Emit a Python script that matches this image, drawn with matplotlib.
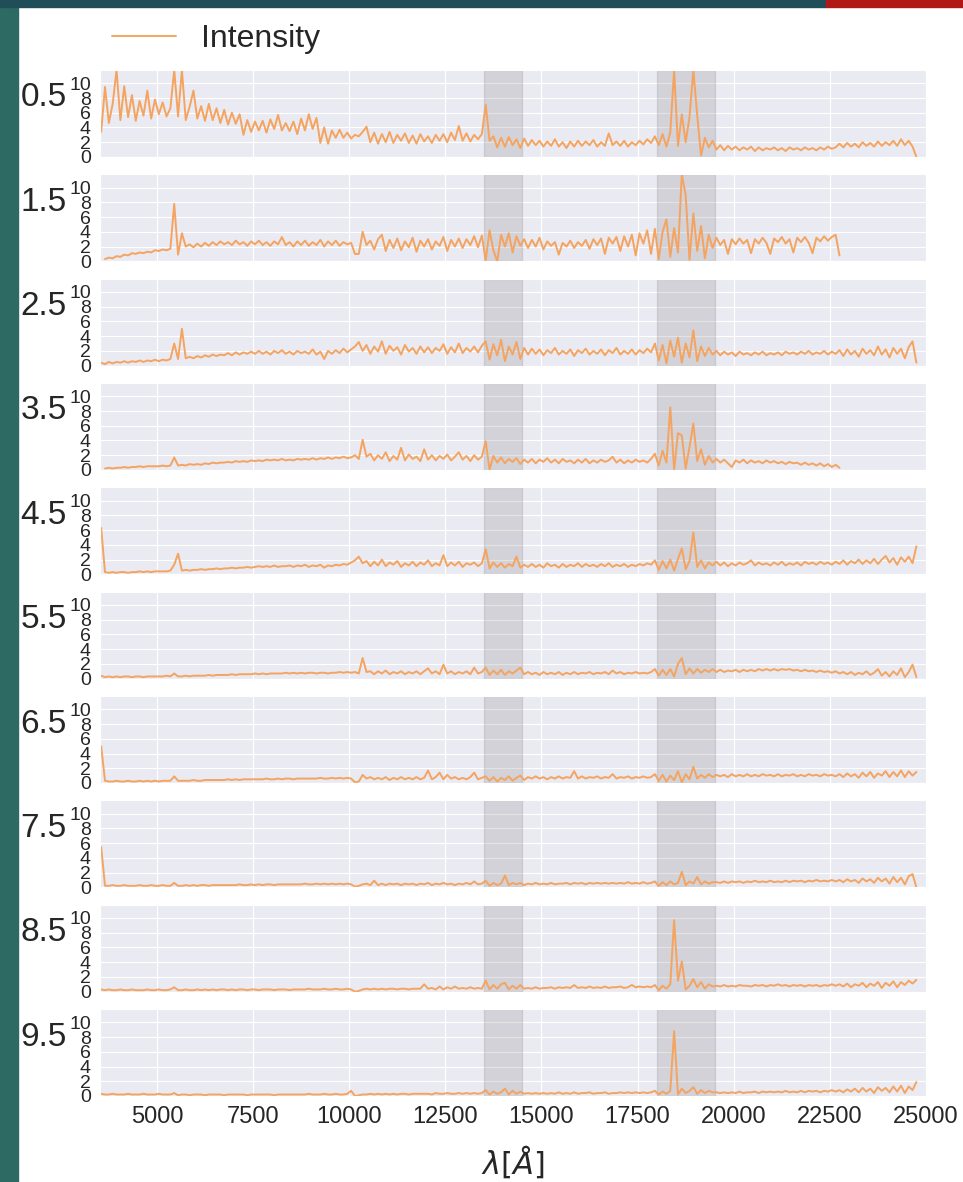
import numpy as np
import matplotlib
matplotlib.use("Agg")
import matplotlib.pyplot as plt
import seaborn as sns
from matplotlib.patches import Rectangle

nan = np.nan

# binned spectra: first bin centre and bin width in Angstrom
wl_start = 3550
wl_step = 100
n_bins = 213

redshifts = ["0.5", "1.5", "2.5", "3.5", "4.5", "5.5", "6.5", "7.5", "8.5", "9.5"]

flux_05 = [
    3.4, 9.5, 4.6, 7.2, 11.8, 5.0, 9.6, 5.4, 8.4, 4.9,
    7.6, 5.6, 9.0, 5.2, 7.8, 5.8, 7.4, 5.5, 6.6, 11.8,
    5.5, 11.8, 5.0, 6.8, 9.0, 5.2, 6.9, 4.9, 7.2, 5.0,
    6.6, 4.6, 6.4, 4.4, 6.0, 4.5, 5.8, 3.0, 5.0, 3.4,
    4.8, 3.6, 4.9, 3.3, 5.1, 3.8, 5.7, 3.6, 4.6, 3.5,
    4.8, 3.1, 5.2, 3.6, 5.8, 3.8, 5.3, 1.9, 4.0, 1.8,
    3.6, 2.6, 3.7, 2.6, 3.3, 2.5, 3.0, 2.8, 3.4, 4.1,
    2.0, 3.3, 1.8, 3.1, 2.0, 3.4, 1.9, 3.0, 2.2, 3.2,
    1.9, 2.9, 1.8, 3.1, 2.1, 2.8, 1.9, 3.0, 2.2, 3.1,
    2.0, 3.3, 2.3, 4.2, 2.2, 3.2, 2.1, 3.0, 2.4, 3.1,
    7.1, 2.2, 2.8, 1.3, 2.6, 1.4, 2.7, 1.6, 2.4, 1.2,
    2.5, 1.5, 2.3, 1.6, 2.2, 1.4, 2.1, 1.5, 2.4, 1.4,
    2.0, 1.2, 2.1, 1.4, 2.2, 1.5, 2.1, 1.6, 2.3, 1.4,
    2.0, 1.5, 3.2, 1.6, 2.1, 1.5, 2.2, 1.4, 2.0, 1.6,
    2.2, 1.7, 2.4, 1.9, 2.8, 1.6, 3.1, 1.4, 3.3, 11.8,
    1.5, 5.8, 2.0, 5.4, 11.8, 5.7, 0.2, 2.6, 1.3, 2.2,
    1.0, 1.6, 0.9, 1.5, 1.0, 1.4, 0.9, 1.3, 1.0, 1.4,
    0.8, 1.3, 0.9, 1.2, 1.0, 1.3, 0.9, 1.2, 0.8, 1.3,
    1.0, 1.2, 0.9, 1.3, 1.0, 1.2, 0.9, 1.3, 1.0, 1.4,
    1.1, 1.3, 1.8, 1.3, 1.9, 1.4, 1.8, 1.3, 2.0, 1.5,
    1.9, 1.4, 2.1, 1.5, 2.0, 1.6, 2.2, 1.5, 2.4, 1.6,
    2.2, 1.4, 0.0,
]

flux_15 = [
    nan, 0.3, 0.5, 0.4, 0.7, 0.6, 0.9, 0.8, 1.1, 1.0,
    1.2, 1.1, 1.3, 1.2, 1.5, 1.4, 1.6, 1.5, 1.7, 7.8,
    0.9, 3.8, 2.0, 2.3, 1.9, 2.4, 2.0, 2.5, 2.1, 2.6,
    2.2, 2.7, 2.3, 2.6, 2.2, 2.8, 2.3, 2.6, 2.1, 2.7,
    2.3, 2.8, 2.2, 2.6, 2.1, 2.7, 2.3, 3.3, 2.2, 2.6,
    2.0, 2.7, 2.2, 2.8, 2.1, 2.6, 2.2, 2.9, 2.0, 2.7,
    2.2, 2.8, 2.1, 2.6, 2.3, 2.5, 1.0, 1.0, 4.0, 2.2,
    2.8, 1.6, 3.0, 3.6, 1.4, 2.9, 1.8, 3.1, 1.5, 2.7,
    1.9, 3.2, 1.3, 2.8, 2.0, 3.0, 1.6, 2.7, 2.1, 3.3,
    1.4, 2.9, 2.0, 3.1, 1.8, 3.0, 2.2, 3.4, 1.9, 3.5,
    0.1, 4.2, 1.5, 0.0, 3.6, 2.0, 3.8, 1.2, 3.4, 2.1,
    3.0, 1.8, 2.9, 2.0, 3.2, 1.6, 2.7, 2.1, 2.6, 0.9,
    2.5, 2.0, 2.8, 1.8, 2.6, 2.1, 2.9, 1.7, 3.0, 2.2,
    3.1, 1.0, 3.2, 2.4, 3.3, 1.4, 3.4, 2.0, 3.6, 0.8,
    3.8, 2.4, 4.2, 1.0, 4.4, 0.3, 4.0, 5.7, 0.6, 4.5,
    1.2, 11.8, 9.0, 0.2, 6.5, 1.4, 4.8, 0.4, 3.6, 1.8,
    3.2, 2.2, 2.9, 1.0, 3.0, 2.3, 3.1, 2.4, 2.9, 1.1,
    3.0, 2.4, 3.2, 2.5, 1.0, 3.1, 2.6, 3.3, 2.4, 3.0,
    1.2, 3.2, 2.6, 3.3, 2.5, 1.1, 3.2, 2.7, 3.4, 2.8,
    3.3, 3.6, 0.8,
]

flux_25 = [
    0.4, 0.2, 0.5, 0.3, 0.5, 0.4, 0.6, 0.4, 0.6, 0.5,
    0.7, 0.5, 0.7, 0.6, 0.8, 0.6, 0.8, 0.7, 0.9, 3.0,
    0.9, 5.0, 1.0, 1.2, 1.0, 1.3, 1.1, 1.4, 1.2, 1.5,
    1.3, 1.5, 1.4, 1.7, 1.4, 1.8, 1.5, 1.8, 1.6, 1.9,
    1.6, 2.0, 1.6, 1.9, 1.5, 2.0, 1.7, 2.1, 1.6, 1.9,
    1.5, 2.0, 1.7, 1.9, 1.6, 2.2, 1.5, 1.9, 0.9, 2.0,
    1.6, 2.1, 1.7, 2.3, 1.8, 2.2, 2.6, 3.2, 2.0, 2.8,
    1.6, 2.6, 1.9, 3.3, 1.6, 2.7, 2.0, 2.5, 1.5, 2.8,
    1.9, 2.4, 1.6, 2.6, 1.8, 2.5, 1.7, 2.4, 2.0, 2.9,
    1.6, 2.5, 1.8, 3.0, 1.7, 2.4, 1.9, 2.6, 1.8, 2.7,
    3.3, 0.8, 2.9, 1.4, 3.5, 0.6, 2.6, 1.5, 3.2, 0.9,
    2.4, 1.5, 2.3, 1.6, 2.2, 1.4, 2.1, 1.7, 2.4, 1.5,
    2.0, 1.6, 2.2, 1.3, 2.1, 1.7, 2.3, 1.5, 2.0, 1.6,
    2.2, 1.4, 2.1, 1.7, 2.4, 1.5, 2.0, 1.6, 2.2, 1.5,
    2.1, 1.7, 2.3, 1.8, 3.0, 0.7, 2.8, 0.3, 3.4, 1.2,
    3.8, 0.4, 3.0, 1.1, 4.8, 0.6, 2.6, 1.3, 2.4, 1.5,
    2.0, 1.4, 1.9, 1.5, 1.8, 1.3, 1.9, 1.5, 1.7, 1.4,
    1.8, 1.5, 1.9, 1.4, 1.7, 1.5, 1.8, 1.4, 1.9, 1.6,
    1.8, 1.5, 1.9, 1.6, 2.0, 1.5, 1.8, 1.6, 2.0, 1.5,
    1.9, 1.6, 2.1, 1.3, 2.2, 1.5, 2.0, 1.2, 2.3, 1.6,
    2.1, 1.4, 2.6, 1.5, 2.2, 1.1, 2.4, 1.6, 2.3, 1.0,
    2.5, 3.3, 0.4,
]

flux_35 = [
    nan, 0.2, 0.3, 0.2, 0.3, 0.3, 0.4, 0.3, 0.4, 0.4,
    0.5, 0.4, 0.5, 0.5, 0.5, 0.5, 0.6, 0.5, 0.6, 1.7,
    0.6, 0.7, 0.6, 0.8, 0.7, 0.8, 0.7, 0.9, 0.8, 1.0,
    0.9, 1.0, 1.0, 1.1, 1.0, 1.2, 1.1, 1.2, 1.1, 1.3,
    1.2, 1.3, 1.2, 1.4, 1.3, 1.4, 1.3, 1.5, 1.3, 1.4,
    1.3, 1.5, 1.4, 1.5, 1.4, 1.6, 1.4, 1.6, 1.5, 1.7,
    1.5, 1.7, 1.6, 1.8, 1.6, 1.7, 2.0, 1.5, 4.1, 1.8,
    2.2, 1.3, 2.0, 1.5, 2.4, 1.2, 1.9, 1.4, 3.0, 1.3,
    2.1, 1.5, 1.8, 1.2, 2.8, 1.4, 2.0, 1.3, 1.9, 1.5,
    2.1, 1.3, 1.8, 2.4, 1.4, 1.9, 1.2, 2.0, 1.4, 1.8,
    3.9, 0.0, 1.9, 1.0, 1.7, 0.9, 1.5, 1.1, 1.6, 0.8,
    1.4, 1.0, 1.5, 0.9, 1.4, 1.1, 1.6, 1.0, 1.4, 0.9,
    1.5, 1.1, 1.3, 0.9, 1.4, 1.0, 1.5, 0.9, 1.3, 1.0,
    1.4, 1.1, 1.3, 1.8, 1.0, 1.4, 0.9, 1.3, 1.0, 1.4,
    1.1, 1.3, 1.0, 1.5, 2.2, 0.6, 2.6, 1.0, 8.5, 0.0,
    5.0, 4.7, 0.2, 3.1, 6.3, 1.2, 2.8, 0.7, 1.9, 1.0,
    1.5, 1.0, 1.4, 0.9, 0.4, 1.3, 1.0, 1.4, 0.9, 1.3,
    1.0, 1.2, 0.9, 1.3, 1.0, 1.2, 0.9, 1.1, 0.8, 1.1,
    0.9, 1.0, 0.7, 1.0, 0.7, 0.9, 0.6, 0.9, 0.5, 0.8,
    0.4, 0.7, 0.3,
]

flux_45 = [
    6.3, 0.3, 0.2, 0.3, 0.2, 0.3, 0.3, 0.2, 0.3, 0.3,
    0.4, 0.3, 0.4, 0.3, 0.4, 0.4, 0.4, 0.4, 0.5, 1.3,
    2.8, 0.5, 0.6, 0.5, 0.6, 0.6, 0.7, 0.6, 0.7, 0.7,
    0.8, 0.7, 0.8, 0.8, 0.9, 0.8, 0.9, 0.9, 1.0, 0.9,
    1.0, 1.1, 1.0, 1.1, 1.0, 1.2, 1.0, 1.1, 1.1, 1.2,
    1.0, 1.2, 1.1, 1.3, 1.0, 1.2, 1.1, 1.3, 0.9, 1.2,
    1.1, 1.3, 1.2, 1.4, 1.3, 1.6, 1.9, 2.4, 1.5, 1.8,
    1.1, 1.7, 1.2, 2.0, 1.1, 1.6, 1.3, 1.8, 1.0, 1.5,
    1.2, 1.7, 1.1, 1.6, 1.3, 1.9, 1.1, 1.5, 1.2, 2.6,
    1.1, 1.6, 1.2, 1.7, 1.0, 1.5, 1.3, 1.6, 1.1, 1.5,
    3.4, 0.8, 1.6, 1.0, 1.5, 0.9, 1.4, 1.1, 2.4, 0.9,
    1.3, 1.0, 1.4, 1.0, 1.3, 0.9, 1.5, 1.1, 1.3, 0.9,
    1.4, 1.0, 1.3, 1.1, 1.5, 1.0, 1.4, 1.1, 1.3, 1.0,
    1.4, 1.1, 1.5, 1.0, 1.3, 1.1, 1.4, 1.0, 1.3, 1.1,
    1.4, 1.2, 1.5, 1.3, 1.9, 0.6, 1.8, 0.8, 2.0, 0.5,
    2.1, 3.5, 0.7, 1.8, 5.7, 1.0, 1.9, 0.8, 1.6, 1.2,
    1.7, 1.2, 1.6, 1.1, 1.5, 1.2, 1.6, 1.3, 1.5, 1.9,
    1.2, 1.6, 1.3, 1.5, 1.2, 1.6, 1.3, 1.7, 1.2, 1.5,
    1.3, 1.6, 1.2, 1.7, 1.4, 1.6, 1.3, 1.7, 1.4, 1.6,
    1.3, 1.7, 1.4, 1.9, 1.3, 1.8, 1.5, 2.0, 1.4, 1.9,
    1.5, 2.1, 1.4, 2.0, 2.5, 1.6, 2.2, 1.3, 2.3, 1.7,
    2.4, 1.5, 3.8,
]

flux_55 = [
    0.4, 0.2, 0.3, 0.2, 0.3, 0.2, 0.3, 0.3, 0.2, 0.3,
    0.3, 0.2, 0.3, 0.3, 0.3, 0.3, 0.3, 0.4, 0.3, 0.7,
    0.3, 0.3, 0.4, 0.3, 0.4, 0.4, 0.4, 0.4, 0.5, 0.4,
    0.5, 0.5, 0.5, 0.5, 0.6, 0.5, 0.6, 0.6, 0.6, 0.6,
    0.7, 0.6, 0.7, 0.6, 0.7, 0.7, 0.7, 0.7, 0.8, 0.7,
    0.8, 0.7, 0.8, 0.7, 0.8, 0.8, 0.7, 0.8, 0.8, 0.7,
    0.8, 0.8, 0.9, 0.8, 0.9, 0.8, 0.9, 0.7, 2.8, 0.9,
    1.0, 0.6, 1.0, 0.7, 1.1, 0.6, 0.9, 0.7, 1.0, 0.6,
    0.9, 0.7, 1.0, 0.6, 1.0, 1.4, 0.7, 1.0, 0.6, 1.9,
    0.7, 1.0, 0.6, 0.9, 0.7, 1.0, 0.6, 1.5, 0.7, 0.9,
    1.5, 0.5, 1.1, 0.6, 1.2, 0.5, 1.0, 0.7, 1.1, 1.5,
    0.6, 0.9, 0.6, 0.8, 0.5, 0.9, 0.6, 0.8, 0.6, 0.9,
    0.5, 0.8, 0.6, 0.9, 0.6, 0.8, 0.7, 0.9, 0.6, 0.8,
    0.7, 0.9, 0.6, 1.1, 0.7, 0.9, 0.6, 0.8, 0.7, 0.9,
    0.7, 0.8, 0.7, 0.9, 1.3, 0.4, 1.2, 0.5, 1.3, 0.3,
    2.0, 2.8, 0.6, 1.4, 0.7, 1.3, 0.8, 1.2, 0.9, 1.3,
    0.9, 1.2, 0.9, 1.1, 1.0, 1.2, 0.9, 1.2, 1.0, 1.2,
    1.0, 1.3, 1.1, 1.3, 1.1, 1.3, 1.1, 1.3, 1.2, 1.3,
    1.1, 1.2, 1.0, 1.2, 1.0, 1.1, 0.9, 1.1, 0.9, 1.0,
    0.8, 1.0, 0.7, 0.9, 0.6, 0.9, 0.5, 0.8, 0.6, 1.0,
    0.5, 0.8, 1.3, 0.4, 0.9, 0.3, 1.0, 0.5, 1.4, 0.2,
    0.9, 1.9, 0.2,
]

flux_65 = [
    5.0, 0.3, 0.2, 0.2, 0.3, 0.2, 0.2, 0.3, 0.2, 0.2,
    0.3, 0.2, 0.3, 0.2, 0.3, 0.2, 0.3, 0.3, 0.3, 0.9,
    0.3, 0.3, 0.3, 0.3, 0.4, 0.3, 0.3, 0.4, 0.4, 0.4,
    0.4, 0.4, 0.4, 0.5, 0.4, 0.5, 0.4, 0.5, 0.5, 0.5,
    0.5, 0.5, 0.5, 0.6, 0.5, 0.5, 0.6, 0.5, 0.6, 0.6,
    0.5, 0.6, 0.6, 0.6, 0.6, 0.6, 0.6, 0.7, 0.6, 0.6,
    0.7, 0.6, 0.7, 0.6, 0.7, 0.6, 0.1, 0.2, 1.1, 0.6,
    0.8, 0.5, 0.7, 0.5, 0.8, 0.4, 0.7, 0.5, 0.8, 0.5,
    0.7, 0.5, 0.8, 0.5, 0.7, 1.7, 0.5, 0.8, 1.4, 0.5,
    1.1, 0.6, 0.8, 0.5, 0.7, 0.5, 0.8, 1.4, 0.5, 0.7,
    0.9, 0.3, 0.8, 0.2, 0.7, 0.4, 0.9, 0.3, 0.7, 1.0,
    0.4, 0.8, 0.6, 0.9, 0.6, 0.8, 0.5, 0.8, 0.6, 0.9,
    0.6, 0.8, 0.7, 1.6, 0.6, 0.9, 0.6, 0.8, 0.7, 0.9,
    0.6, 0.8, 0.7, 1.2, 0.6, 0.8, 0.7, 0.9, 0.6, 0.8,
    0.7, 0.9, 0.7, 0.8, 1.2, 0.3, 1.1, 0.2, 1.0, 0.4,
    1.6, 0.1, 1.2, 0.5, 2.2, 0.6, 1.1, 0.7, 1.2, 0.8,
    1.1, 0.9, 1.1, 0.8, 1.2, 0.9, 1.1, 0.9, 1.2, 0.9,
    1.1, 0.9, 1.2, 1.0, 1.1, 0.9, 1.2, 0.9, 1.1, 1.0,
    1.2, 0.9, 1.1, 0.9, 1.2, 1.0, 1.1, 0.9, 1.2, 1.0,
    1.1, 0.9, 1.2, 0.8, 1.3, 0.9, 1.2, 0.7, 1.4, 0.9,
    1.5, 0.7, 1.3, 1.0, 1.6, 0.8, 1.5, 0.9, 1.7, 0.8,
    1.6, 1.0, 1.5,
]

flux_75 = [
    5.5, 0.2, 0.2, 0.3, 0.2, 0.2, 0.3, 0.2, 0.2, 0.2,
    0.3, 0.2, 0.2, 0.3, 0.2, 0.2, 0.3, 0.2, 0.2, 0.6,
    0.2, 0.2, 0.3, 0.2, 0.3, 0.2, 0.3, 0.3, 0.2, 0.3,
    0.3, 0.3, 0.3, 0.3, 0.3, 0.3, 0.4, 0.3, 0.3, 0.4,
    0.3, 0.4, 0.3, 0.4, 0.4, 0.3, 0.4, 0.4, 0.4, 0.4,
    0.4, 0.4, 0.4, 0.5, 0.4, 0.4, 0.5, 0.4, 0.5, 0.4,
    0.5, 0.4, 0.5, 0.4, 0.5, 0.4, 0.1, 0.2, 0.4, 0.5,
    0.3, 0.9, 0.3, 0.5, 0.3, 0.5, 0.4, 0.5, 0.3, 0.5,
    0.4, 0.5, 0.3, 0.5, 0.4, 0.6, 0.3, 0.5, 0.4, 0.6,
    0.4, 0.5, 0.3, 0.5, 0.4, 0.6, 0.4, 0.8, 0.4, 0.5,
    0.9, 0.2, 0.6, 0.3, 0.5, 1.6, 0.3, 0.6, 0.4, 0.6,
    0.3, 0.5, 0.4, 0.6, 0.4, 0.5, 0.4, 0.6, 0.4, 0.5,
    0.5, 0.6, 0.4, 0.6, 0.5, 0.6, 0.4, 0.6, 0.5, 0.6,
    0.5, 0.6, 0.5, 0.6, 0.5, 0.6, 0.5, 0.7, 0.5, 0.6,
    0.5, 0.7, 0.5, 0.6, 0.8, 0.2, 0.7, 0.3, 0.8, 0.4,
    0.6, 2.1, 0.3, 0.8, 0.5, 1.4, 0.4, 0.8, 0.5, 0.7,
    0.7, 0.6, 0.8, 0.6, 0.8, 0.7, 0.8, 0.6, 0.8, 0.7,
    0.9, 0.7, 0.8, 0.7, 0.9, 0.7, 0.8, 0.7, 0.9, 0.7,
    0.9, 0.8, 0.9, 0.7, 0.9, 0.8, 1.0, 0.8, 0.9, 0.8,
    1.0, 0.8, 1.0, 0.7, 1.1, 0.8, 1.0, 0.6, 1.2, 0.8,
    1.1, 0.6, 1.3, 0.8, 1.2, 0.5, 1.4, 0.7, 1.3, 0.4,
    1.5, 1.8, 0.0,
]

flux_85 = [
    0.3, 0.2, 0.3, 0.2, 0.2, 0.3, 0.2, 0.2, 0.3, 0.2,
    0.2, 0.2, 0.3, 0.2, 0.2, 0.3, 0.2, 0.2, 0.3, 0.6,
    0.2, 0.2, 0.3, 0.2, 0.2, 0.3, 0.2, 0.3, 0.2, 0.3,
    0.2, 0.3, 0.3, 0.2, 0.3, 0.2, 0.3, 0.3, 0.2, 0.3,
    0.3, 0.2, 0.3, 0.3, 0.3, 0.2, 0.3, 0.3, 0.3, 0.2,
    0.3, 0.3, 0.3, 0.3, 0.4, 0.3, 0.3, 0.3, 0.4, 0.3,
    0.3, 0.4, 0.3, 0.3, 0.4, 0.3, 0.0, 0.1, 0.3, 0.4,
    0.3, 0.4, 0.3, 0.4, 0.3, 0.4, 0.4, 0.3, 0.4, 0.4,
    0.3, 0.4, 0.4, 0.4, 1.0, 0.4, 0.5, 0.3, 0.7, 0.3,
    0.6, 0.4, 0.7, 0.4, 0.5, 0.4, 0.6, 0.4, 0.5, 0.4,
    1.5, 0.3, 0.9, 0.4, 1.0, 1.2, 0.3, 0.8, 0.4, 0.9,
    0.4, 0.5, 0.4, 0.6, 0.4, 0.5, 0.5, 0.6, 0.4, 0.6,
    0.5, 0.6, 0.5, 0.9, 0.5, 0.6, 0.5, 0.7, 0.5, 0.6,
    0.5, 0.7, 0.5, 0.6, 0.6, 0.7, 0.5, 0.6, 0.9, 0.6,
    0.7, 0.6, 0.7, 0.6, 0.9, 0.2, 0.8, 0.4, 1.0, 9.7,
    1.5, 4.1, 0.3, 0.8, 1.7, 0.6, 1.3, 0.4, 1.0, 0.7,
    0.8, 0.7, 0.9, 0.7, 0.8, 0.7, 0.9, 0.8, 0.8, 0.7,
    0.9, 0.8, 0.9, 0.7, 0.9, 0.8, 1.0, 0.8, 0.9, 0.7,
    0.9, 0.8, 0.9, 0.7, 0.9, 0.8, 0.9, 0.7, 0.9, 0.8,
    1.0, 0.8, 1.0, 0.7, 1.1, 0.6, 1.0, 0.8, 1.2, 0.6,
    1.1, 0.8, 1.3, 0.5, 1.2, 0.8, 1.4, 0.6, 1.3, 0.9,
    1.5, 1.1, 1.6,
]

flux_95 = [
    0.3, 0.2, 0.2, 0.3, 0.2, 0.2, 0.2, 0.3, 0.2, 0.2,
    0.2, 0.3, 0.2, 0.2, 0.2, 0.3, 0.2, 0.2, 0.2, 0.4,
    0.1, 0.2, 0.2, 0.1, 0.2, 0.2, 0.2, 0.1, 0.2, 0.2,
    0.2, 0.2, 0.1, 0.2, 0.2, 0.2, 0.2, 0.2, 0.1, 0.2,
    0.2, 0.2, 0.2, 0.2, 0.2, 0.1, 0.2, 0.2, 0.2, 0.2,
    0.2, 0.2, 0.2, 0.2, 0.3, 0.2, 0.2, 0.2, 0.3, 0.2,
    0.2, 0.3, 0.2, 0.2, 0.3, 0.7, 0.0, 0.1, 0.2, 0.2,
    0.3, 0.2, 0.3, 0.2, 0.3, 0.2, 0.3, 0.2, 0.3, 0.3,
    0.2, 0.3, 0.3, 0.3, 0.3, 0.3, 0.2, 0.4, 0.3, 0.3,
    0.4, 0.3, 0.3, 0.4, 0.3, 0.4, 0.3, 0.4, 0.3, 0.4,
    0.8, 0.2, 0.6, 0.3, 0.5, 1.0, 0.2, 0.7, 0.3, 0.6,
    0.3, 0.4, 0.3, 0.4, 0.3, 0.4, 0.3, 0.4, 0.3, 0.5,
    0.3, 0.4, 0.3, 0.5, 0.3, 0.4, 0.4, 0.5, 0.3, 0.4,
    0.4, 0.5, 0.3, 0.4, 0.4, 0.5, 0.4, 0.5, 0.4, 0.5,
    0.4, 0.5, 0.4, 0.5, 0.7, 0.2, 0.6, 0.3, 0.7, 8.8,
    0.2, 1.0, 0.4, 0.7, 1.2, 0.3, 0.8, 0.4, 0.7, 0.5,
    0.5, 0.4, 0.5, 0.4, 0.5, 0.4, 0.6, 0.4, 0.5, 0.5,
    0.6, 0.4, 0.6, 0.5, 0.6, 0.5, 0.6, 0.5, 0.7, 0.5,
    0.6, 0.5, 0.7, 0.5, 0.7, 0.6, 0.7, 0.5, 0.7, 0.6,
    0.8, 0.6, 0.8, 0.5, 0.9, 0.6, 1.0, 0.5, 1.1, 0.6,
    1.0, 0.4, 1.2, 0.7, 1.1, 0.5, 1.3, 0.6, 1.4, 0.4,
    1.3, 0.8, 1.9,
]

spectra = [flux_05, flux_15, flux_25, flux_35, flux_45,
           flux_55, flux_65, flux_75, flux_85, flux_95]

# wavelength windows shaded in every panel
bands = [(13500, 14500), (18000, 19500)]

wl = wl_start + wl_step * np.arange(n_bins)

sns.set_style("darkgrid")
plt.rcParams["font.family"] = ["Liberation Sans", "DejaVu Sans"]

fig, axes = plt.subplots(10, 1, figsize=(9.63, 11.82), dpi=100, sharex=True)
fig.subplots_adjust(left=100 / 963, right=926 / 963,
                    top=1 - 70 / 1182, bottom=1 - 1096 / 1182, hspace=0.2)

# slide frame around the figure
fig.add_artist(Rectangle((0, 0), 18 / 963, 1, transform=fig.transFigure,
                         color="#2d6a64", zorder=-1))
fig.add_artist(Rectangle((0, 1 - 7 / 1182), 826 / 963, 7 / 1182,
                         transform=fig.transFigure, color="#1f4e58", zorder=-1))
fig.add_artist(Rectangle((826 / 963, 1 - 7 / 1182), 137 / 963, 7 / 1182,
                         transform=fig.transFigure, color="#b01717", zorder=-1))

for ax, z, flux in zip(axes, redshifts, spectra):
    y = np.full(n_bins, np.nan)
    y[:len(flux)] = flux[:n_bins]
    line, = ax.plot(wl, y, color="sandybrown", lw=1.4, label="Intensity")
    for lo, hi in bands:
        ax.axvspan(lo, hi, color="gray", alpha=0.22)
    ax.set_ylim(0, 11.8)
    ax.set_yticks(range(0, 11, 2))
    ax.tick_params(axis="y", labelsize=14, pad=3)
    ax.set_ylabel(z, rotation=0, fontsize=24, ha="right", va="bottom")
    ax.yaxis.set_label_coords(-0.04, 0.5)

axes[0].set_xlim(3520, 25000)
axes[-1].tick_params(axis="x", labelsize=17)
axes[-1].set_xlabel(r"$\lambda [\AA]$", fontsize=22, labelpad=12)

fig.legend(handles=[line], loc="upper left", bbox_to_anchor=(112 / 963, 1 - 24 / 1182),
           frameon=False, fontsize=23, borderpad=0, borderaxespad=0)

fig.savefig("out.png", dpi=100)
